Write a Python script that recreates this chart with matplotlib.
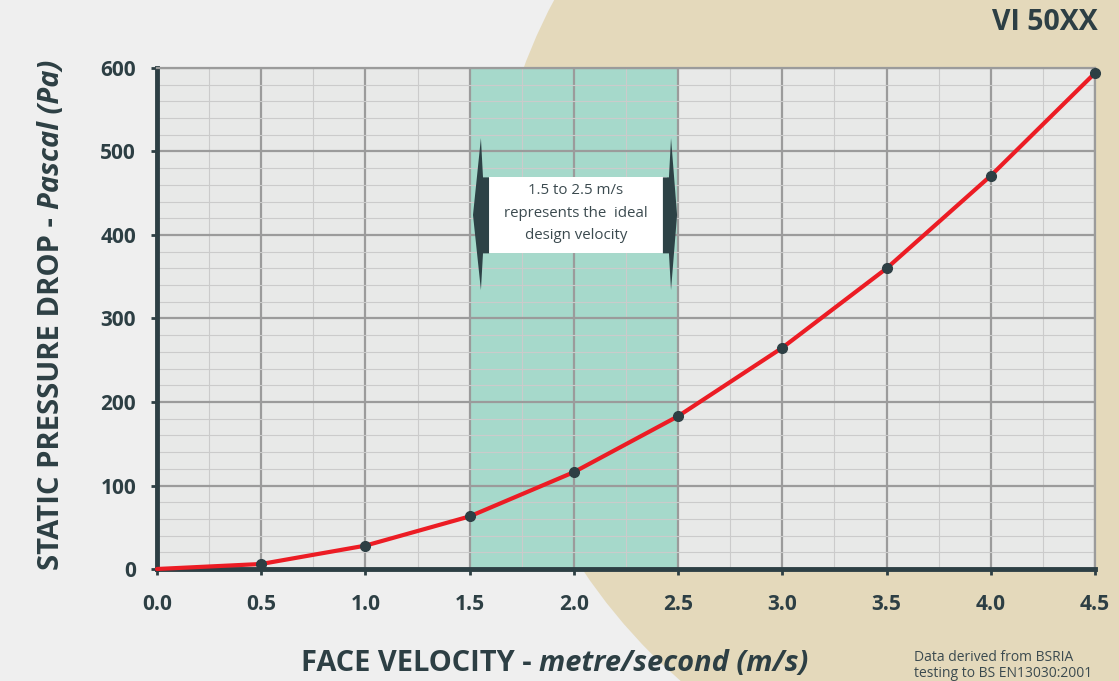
import matplotlib
matplotlib.use("Agg")
import matplotlib.pyplot as plt
from matplotlib.patches import Ellipse, Polygon, Rectangle
from matplotlib.ticker import MultipleLocator

# data
velocity = [0.0, 0.5, 1.0, 1.5, 2.0, 2.5, 3.0, 3.5, 4.0, 4.5]
pressure = [0, 6, 28, 63, 116, 183, 265, 360, 471, 594]
x_ticks = [0.0, 0.5, 1.0, 1.5, 2.0, 2.5, 3.0, 3.5, 4.0, 4.5]
y_ticks = [0, 100, 200, 300, 400, 500, 600]
ideal_band = (1.5, 2.5)
note_lines = ["1.5 to 2.5 m/s", "represents the  ideal", "design velocity"]

DARK = "#2d3f44"
FONT = "Open Sans"
W, H = 1119, 681

plt.rcParams["font.family"] = [FONT, "DejaVu Sans"]

fig = plt.figure(figsize=(W / 100, H / 100), dpi=100, facecolor="#efefef")

def fx(px):
    return px / W

def fy(py):
    return 1 - py / H

# beige disc in the background
fig.add_artist(Ellipse((fx(1045), fy(261)), 2 * 556 / W, 2 * 556 / H,
                       transform=fig.transFigure, color="#e4d9bb", lw=0, zorder=-1))

ax = fig.add_axes([fx(157), fy(569), fx(1095) - fx(157), (569 - 68) / H])
ax.set_facecolor("#e8e9e8")
ax.set_xlim(0, 4.5)
ax.set_ylim(0, 600)
ax.set_xticks(x_ticks)
ax.set_xticklabels([f"{v:.1f}" for v in x_ticks])
ax.set_yticks(y_ticks)
ax.xaxis.set_minor_locator(MultipleLocator(0.25))
ax.yaxis.set_minor_locator(MultipleLocator(20))
ax.set_axisbelow(True)
ax.grid(which="major", color="#9b9b9b", lw=1.6)
ax.grid(which="minor", color="#cbcbcb", lw=0.8)

for side in ["left", "bottom"]:
    ax.spines[side].set_color(DARK)
    ax.spines[side].set_linewidth(3.5)
for side in ["top", "right"]:
    ax.spines[side].set_color("#9b9b9b")
    ax.spines[side].set_linewidth(1.6)

ax.tick_params(which="major", direction="out", length=4, width=2, color=DARK,
               labelsize=15, labelcolor=DARK)
ax.tick_params(axis="x", pad=14)
ax.tick_params(axis="y", pad=11)
ax.tick_params(which="minor", length=0)
for lab in ax.get_xticklabels() + ax.get_yticklabels():
    lab.set_fontweight("bold")

# ideal design velocity band
ax.axvspan(*ideal_band, color="#a6d9cb", lw=0, zorder=0.2)

# note box with arrow markers
ax.add_patch(Rectangle((1.593, 378), 2.447 - 1.593, 469 - 378, fc="white", lw=0, zorder=3))
left_arrow = [(1.554, 516), (1.564, 469), (1.593, 469), (1.593, 378),
              (1.564, 378), (1.554, 334), (1.516, 424)]
right_arrow = [(2.466, 516), (2.456, 469), (2.427, 469), (2.427, 378),
               (2.456, 378), (2.466, 334), (2.495, 424)]
for pts in (left_arrow, right_arrow):
    ax.add_patch(Polygon(pts, closed=True, fc="#2d4246", lw=0, zorder=3.5))
for i, line in enumerate(note_lines):
    ax.text(2.01, 453 - i * 27, line, ha="center", va="center",
            fontsize=10.8, color="#3b4a4f", zorder=4)

# pressure drop curve
ax.plot(velocity, pressure, color="#ec1c24", lw=3, zorder=5,
        solid_capstyle="round", clip_on=False)
ax.plot(velocity[1:], pressure[1:], "o", color=DARK, ms=7, zorder=6, clip_on=False)

# axis titles made of a bold part and a bold italic part
renderer = fig.canvas.get_renderer()

def two_part(x_px, y_px, first, second, size, vertical):
    rot = 90 if vertical else 0
    kw = dict(fontsize=size, color=DARK, fontweight="bold", rotation=rot,
              rotation_mode="anchor", ha="left", va="baseline",
              transform=fig.transFigure)
    t1 = fig.text(0, 0, first, **kw)
    t2 = fig.text(0, 0, second, style="italic", **kw)
    b1 = t1.get_window_extent(renderer)
    b2 = t2.get_window_extent(renderer)
    if vertical:
        l1, l2 = b1.height, b2.height
        start = y_px + (l1 + l2) / 2
        t1.set_position((fx(x_px), fy(start)))
        t2.set_position((fx(x_px), fy(start - l1)))
    else:
        l1, l2 = b1.width, b2.width
        start = x_px - (l1 + l2) / 2
        t1.set_position((fx(start), fy(y_px)))
        t2.set_position((fx(start + l1), fy(y_px)))

two_part(555, 671, "FACE VELOCITY - ", "metre/second (m/s)", 20.9, False)
two_part(59, 315, "STATIC PRESSURE DROP - ", "Pascal (Pa)", 21, True)

fig.text(fx(1098), fy(30), "VI 50XX", ha="right", va="baseline",
         fontsize=20.5, fontweight="bold", color=DARK)
fig.text(fx(914), fy(661), "Data derived from BSRIA", ha="left", va="baseline",
         fontsize=10, color="#3b4a4f")
fig.text(fx(914), fy(677), "testing to BS EN13030:2001", ha="left", va="baseline",
         fontsize=10, color="#3b4a4f")

fig.savefig("out.png", dpi=100, facecolor=fig.get_facecolor())
